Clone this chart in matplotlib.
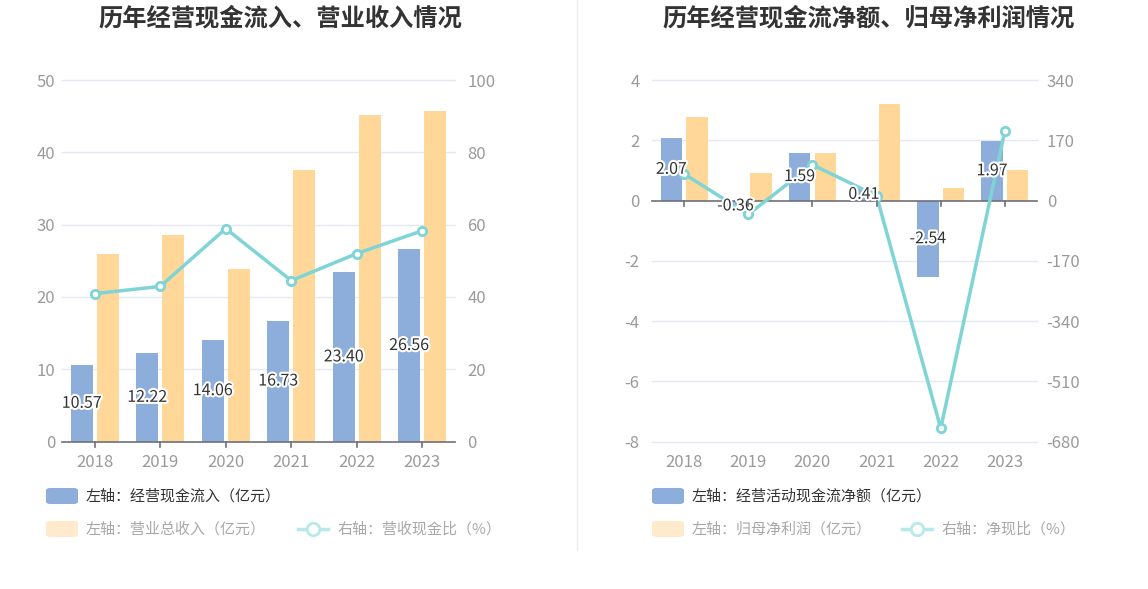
import matplotlib
matplotlib.use("Agg")
import matplotlib.pyplot as plt
import numpy as np
from matplotlib.patches import FancyBboxPatch
from matplotlib.lines import Line2D
import matplotlib.patheffects as pe

plt.rcParams['font.family'] = ['Noto Sans CJK SC', 'DejaVu Sans']

years = ['2018', '2019', '2020', '2021', '2022', '2023']

# Left chart
cash_inflow = [10.57, 12.22, 14.06, 16.73, 23.40, 26.56]
revenue = [25.9, 28.6, 23.9, 37.6, 45.1, 45.7]
cash_ratio = [40.9, 42.9, 58.9, 44.5, 52.0, 58.3]

# Right chart
net_cash = [2.07, -0.36, 1.59, 0.41, -2.54, 1.97]
net_profit = [2.78, 0.92, 1.57, 3.19, 0.40, 1.00]
net_ratio = [75, -39, 101, 13, -643, 197]

left_yticks = [0, 10, 20, 30, 40, 50]
left_y2ticks = [0, 20, 40, 60, 80, 100]
right_yticks = [-8, -6, -4, -2, 0, 2, 4]
right_y2ticks = [-680, -510, -340, -170, 0, 170, 340]

BLUE = '#8DADDB'
ORANGE = '#FFD899'
TEAL = '#7FD4D6'
GRID = '#E3E8F2'
AXIS = '#6E7079'
TICK = '#9A9A9A'

W, H = 1148, 589
fig = plt.figure(figsize=(W / 100, H / 100), dpi=100)


def fx(px):
    return px / W


def fy(py):
    return 1 - py / H


def make_chart(x0, x1, y_top, y_bot, bars1, bars2, line, yt, y2t, title, title_cx, lpad, rpad):
    ax = fig.add_axes([fx(x0), fy(y_bot), fx(x1 - x0), (y_bot - y_top) / H])
    x = np.arange(len(years))
    bw = 0.335
    off = 0.2
    ax.bar(x - off, bars1, bw, color=BLUE, zorder=2)
    ax.bar(x + off, bars2, bw, color=ORANGE, zorder=2)
    ax.set_xlim(-0.5, len(years) - 0.5)
    ax.set_ylim(yt[0], yt[-1])
    ax.set_yticks(yt)
    ax.set_yticklabels([str(v) for v in yt])
    ax.set_xticks(x)
    ax.set_xticklabels(years)
    for v in yt:
        if v != 0:
            ax.axhline(v, color=GRID, linewidth=1, zorder=0, clip_on=False)
    for s in ['top', 'right', 'left', 'bottom']:
        ax.spines[s].set_visible(False)
    ax.axhline(0, color=AXIS, linewidth=1.2, zorder=3, clip_on=False)
    ax.tick_params(axis='y', length=0, pad=lpad, labelsize=12, labelcolor=TICK)
    ax.tick_params(axis='x', length=0, pad=9, labelsize=12, labelcolor=TICK)

    ax2 = ax.twinx()
    ax2.set_ylim(y2t[0], y2t[-1])
    ax2.set_yticks(y2t)
    ax2.set_yticklabels([str(v) for v in y2t])
    for s in ['top', 'right', 'left', 'bottom']:
        ax2.spines[s].set_visible(False)
    ax2.tick_params(axis='y', length=0, pad=rpad, labelsize=12, labelcolor=TICK)
    ax2.plot(x, line, color=TEAL, linewidth=2.5, marker='o', markersize=6,
             markerfacecolor='white', markeredgecolor=TEAL, markeredgewidth=2,
             zorder=5, clip_on=False)

    # data labels centered in blue bars
    for xi, v in zip(x, bars1):
        t = ax2.text(xi - off, 0, f'{v:.2f}', transform=ax.transData,
                     ha='center', va='center', fontsize=11.5, color='#333333', zorder=10)
        t.set_position((xi - off, v / 2))
        t.set_path_effects([pe.withStroke(linewidth=3, foreground='white')])

    # small tick marks below zero line
    fig.canvas.draw()
    y0 = ax.transData.transform((0, 0))[1]
    for xi in x:
        d = ax.transData.transform((xi, 0))
        fig.add_artist(Line2D([d[0] / W, d[0] / W], [y0 / H, (y0 - 5) / H],
                              color=AXIS, linewidth=1.2))
    fig.text(fx(title_cx), fy(18), title, ha='center', va='center', fontsize=17.5,
             fontweight='bold', color='#333333')
    return ax, ax2


make_chart(62, 455, 80, 441.5, cash_inflow, revenue, cash_ratio, left_yticks, left_y2ticks,
           '历年经营现金流入、营业收入情况', 280, 5, 9)
make_chart(652, 1037, 80, 441.5, net_cash, net_profit, net_ratio, right_yticks, right_y2ticks,
           '历年经营现金流净额、归母净利润情况', 869, 9, 7)

# separator
fig.add_artist(Line2D([fx(577), fx(577)], [fy(0), fy(550)], color='#EEEEEE', linewidth=1))


def legend_patch(px, py, color):
    p = FancyBboxPatch((fx(px), fy(py + 8)), fx(32), 16 / H,
                       boxstyle='round,pad=0,rounding_size=0.004', transform=fig.transFigure,
                       facecolor=color, edgecolor='none')
    fig.add_artist(p)


def legend_line(px, py):
    fig.add_artist(Line2D([fx(px), fx(px + 30)], [fy(py), fy(py)], color='#B8E9EA', linewidth=2.5))
    fig.add_artist(Line2D([fx(px + 15)], [fy(py)], marker='o', markersize=9,
                          markerfacecolor='white', markeredgecolor='#B8E9EA', markeredgewidth=2))


LEG_FS = 10.8
# left legend
legend_patch(46, 496, BLUE)
fig.text(fx(86), fy(496), '左轴：经营现金流入（亿元）', ha='left', va='center', fontsize=LEG_FS, color='#333333')
legend_patch(46, 529, '#FFEBCB')
fig.text(fx(86), fy(529), '左轴：营业总收入（亿元）', ha='left', va='center', fontsize=LEG_FS, color='#A8A8A8')
legend_line(298, 529)
fig.text(fx(338), fy(529), '右轴：营收现金比（%）', ha='left', va='center', fontsize=LEG_FS, color='#A8A8A8')

# right legend
legend_patch(652, 496, BLUE)
fig.text(fx(692), fy(496), '左轴：经营活动现金流净额（亿元）', ha='left', va='center', fontsize=LEG_FS, color='#333333')
legend_patch(652, 529, '#FFEBCB')
fig.text(fx(692), fy(529), '左轴：归母净利润（亿元）', ha='left', va='center', fontsize=LEG_FS, color='#A8A8A8')
legend_line(902, 529)
fig.text(fx(942), fy(529), '右轴：净现比（%）', ha='left', va='center', fontsize=LEG_FS, color='#A8A8A8')

fig.savefig('out.png', dpi=100)
